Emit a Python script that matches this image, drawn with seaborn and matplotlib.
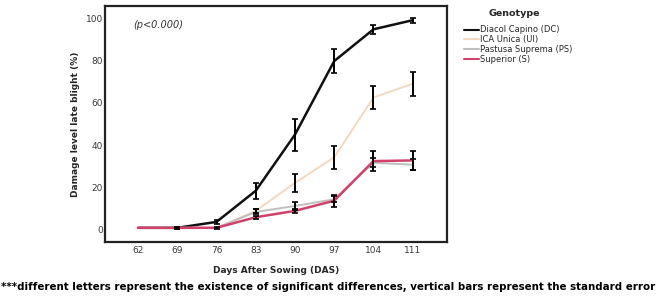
import numpy as np
import pandas as pd
import seaborn as sns
import matplotlib.pyplot as plt

days = [62, 69, 76, 83, 90, 97, 104, 111]
genotypes = ["Diacol Capino (DC)", "ICA Unica (UI)", "Pastusa Suprema (PS)", "Superior (S)"]

dc_mean = [1, 1, 3.8, 18.5, 45.0, 79.7, 94.7, 99.0]
dc_se = [0, 0.5, 0.9, 3.8, 7.6, 5.5, 2.0, 1.2]
ui_mean = [1, 1, 1, 9.0, 22.2, 34.3, 62.5, 69.0]
ui_se = [0, 0, 0, 1.0, 4.1, 5.5, 5.5, 5.7]
ps_mean = [1, 1, 1, 8.5, 11.3, 14.5, 31.7, 30.8]
ps_se = [0, 0, 0, 1.2, 1.9, 1.5, 2.2, 2.5]
s_mean = [1, 1, 1, 6.0, 9.0, 13.8, 32.5, 32.8]
s_se = [0, 0.5, 0.5, 0.8, 1.0, 2.8, 4.8, 4.3]

colors = ["#111111", "#f3d9c2", "#bfbfbf", "#d2416c"]
widths = [1.8, 1.4, 1.4, 1.8]

means = [dc_mean, ui_mean, ps_mean, s_mean]
ses = [dc_se, ui_se, ps_se, s_se]

df = pd.DataFrame({
    "DAS": days * 4,
    "Genotype": np.repeat(genotypes, len(days)),
    "Damage": np.concatenate(means),
    "SE": np.concatenate(ses),
})

sns.set_style("white")
plt.rcParams["font.family"] = ["DejaVu Sans"]

fig = plt.figure(figsize=(6.58, 2.96), dpi=100)
ax = fig.add_axes([0.1596, 0.1824, 0.5195, 0.7973])

sns.lineplot(data=df, x="DAS", y="Damage", hue="Genotype", hue_order=genotypes,
             palette=colors, ax=ax, errorbar=None)
for line, w in zip(ax.get_lines(), widths):
    line.set_linewidth(w)

# standard error bars, all black
for g in genotypes:
    sub = df[(df["Genotype"] == g) & (df["SE"] > 0)]
    ax.errorbar(sub["DAS"], sub["Damage"], yerr=sub["SE"], fmt="none",
                ecolor="black", elinewidth=1.4, capsize=2.3, capthick=1.2, zorder=5)

ax.set_xlim(56.1, 117.1)
ax.set_ylim(-5.7, 105.7)
ax.set_xticks(days)
ax.set_yticks([0, 20, 40, 60, 80, 100])
ax.tick_params(length=0, labelsize=6.5, colors="#3a3a3a")
ax.tick_params(axis="y", pad=1.5)
ax.tick_params(axis="x", pad=3)
for sp in ax.spines.values():
    sp.set_visible(True)
    sp.set_color("#222222")
    sp.set_linewidth(1.6)

ax.set_xlabel("Days After Sowing (DAS)", fontsize=6.5, fontweight="bold", labelpad=8)
ax.set_ylabel("Damage level late blight (%)", fontsize=6.5, fontweight="bold", labelpad=4)
ax.text(61.1, 96.7, "(p<0.000)", fontsize=7, style="italic", color="#333333", va="center")

leg = ax.legend(loc="upper left", bbox_to_anchor=(464 / 658, 1 - 25.5 / 296),
                bbox_transform=fig.transFigure, frameon=False, fontsize=6,
                handlelength=1.8, handletextpad=0.15, labelspacing=0.1,
                borderpad=0, borderaxespad=0)
fig.text(514 / 658, 1 - 14 / 296, "Genotype", ha="center", va="center",
         fontsize=6.8, fontweight="bold")

fig.text(0.4985, 0.03, "***different letters represent the existence of significant differences, "
         "vertical bars represent the standard error", ha="center", va="center",
         fontsize=7.4, fontweight="bold", color="black")

plt.savefig("out.png", dpi=100)
